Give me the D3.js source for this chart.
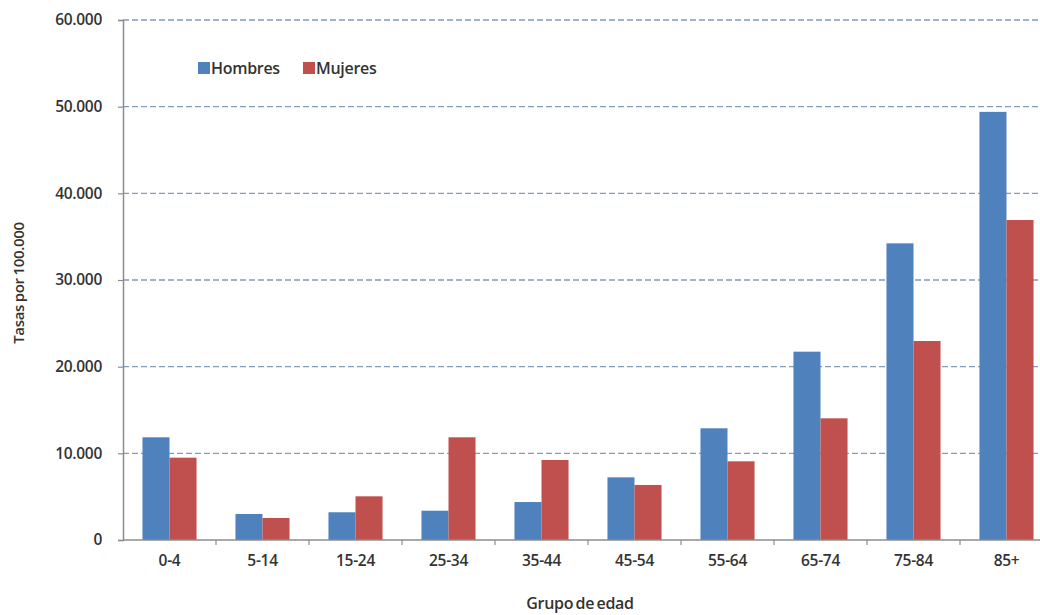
<!DOCTYPE html>
<html>
<head>
<meta charset="utf-8">
<script src="https://cdn.jsdelivr.net/npm/d3@7"></script>
<style>
  html, body { margin: 0; padding: 0; background: #fff; }
  svg { display: block; }
  text { font-family: "Open Sans", "Liberation Sans", sans-serif; fill: #333; }
</style>
</head>
<body>
<svg id="chart" width="1040" height="615"></svg>
<script>
// Age groups and rates per 100,000 inhabitants
const categories = ["0-4", "5-14", "15-24", "25-34", "35-44", "45-54", "55-64", "65-74", "75-84", "85+"];
const hombres = [11850, 3000, 3200, 3380, 4380, 7230, 12890, 21730, 34230, 49400];
const mujeres = [9500, 2540, 5040, 11850, 9230, 6350, 9080, 14040, 22960, 36920];
const seriesNames = ["Hombres", "Mujeres"];
const seriesColors = ["#4F81BD", "#C0504D"];
const yTicks = [0, 10000, 20000, 30000, 40000, 50000, 60000];

const svg = d3.select("#chart");
const W = 1040, H = 615;
const plotLeft = 123, plotTop = 20, plotBottom = 540;
const bandW = 93;
const plotRight = plotLeft + bandW * categories.length;
const textColor = "#363636";

const x = d3.scaleBand().domain(categories).range([plotLeft, plotRight]).paddingInner(0).paddingOuter(0);
const xs = d3.scaleBand().domain(seriesNames).range([0, x.bandwidth()]).paddingInner(0).paddingOuter(0.72);
const y = d3.scaleLinear().domain([0, 60000]).range([plotBottom, plotTop]);

// Dashed horizontal gridlines
svg.append("g").selectAll("line").data(yTicks.filter(d => d > 0)).join("line")
  .attr("x1", plotLeft).attr("x2", W)
  .attr("y1", d => y(d)).attr("y2", d => y(d))
  .attr("stroke", "#819bbb").attr("stroke-width", 1.3)
  .attr("stroke-dasharray", "6,3");

// Bars
const data = categories.map((c, i) => ({ cat: c, vals: [hombres[i], mujeres[i]] }));
const groups = svg.append("g").selectAll("g").data(data).join("g")
  .attr("transform", d => `translate(${x(d.cat)},0)`);
groups.selectAll("rect").data(d => d.vals.map((v, j) => ({ v, j }))).join("rect")
  .attr("x", d => xs(seriesNames[d.j]))
  .attr("width", xs.bandwidth())
  .attr("y", d => y(d.v))
  .attr("height", d => y(0) - y(d.v))
  .attr("fill", d => seriesColors[d.j]);

// Y axis
const yAxis = d3.axisLeft(y).tickValues(yTicks).tickSize(5).tickPadding(16)
  .tickFormat(d => d === 0 ? "0" : (d / 1000).toFixed(0) + ".000");
const gy = svg.append("g").attr("transform", `translate(${plotLeft},0)`).call(yAxis);
gy.select(".domain").attr("stroke", "#8c8c8c").attr("stroke-width", 1.5);
gy.selectAll(".tick line").attr("stroke", "#8c8c8c").attr("stroke-width", 1.2);
gy.selectAll(".tick text").attr("font-size", 15.5).attr("font-weight", 600)
  .attr("fill", textColor).style("font-family", "'Open Sans', sans-serif")
  .attr("letter-spacing", "-0.3");

// X axis
const xAxis = d3.axisBottom(x).tickSize(0).tickPadding(15);
const gx = svg.append("g").attr("transform", `translate(0,${plotBottom})`).call(xAxis);
gx.select(".domain").remove();
gx.append("line").attr("x1", plotLeft).attr("x2", W).attr("y1", 0).attr("y2", 0)
  .attr("stroke", "#8c8c8c").attr("stroke-width", 1.5);
gx.selectAll(".sep").data(categories.slice(1)).join("line")
  .attr("class", "sep")
  .attr("x1", d => x(d)).attr("x2", d => x(d))
  .attr("y1", 0).attr("y2", 5)
  .attr("stroke", "#8c8c8c").attr("stroke-width", 1.2);
gx.selectAll(".tick text").attr("font-size", 15.5).attr("font-weight", 600)
  .attr("fill", textColor).style("font-family", "'Open Sans', sans-serif")
  .attr("letter-spacing", "-0.3");

// Axis titles
svg.append("text")
  .attr("transform", "translate(18,283) rotate(-90)")
  .attr("text-anchor", "middle")
  .attr("dominant-baseline", "central")
  .attr("font-size", 15).attr("font-weight", 600).attr("fill", textColor)
  .attr("letter-spacing", "-0.3").attr("word-spacing", "-1")
  .text("Tasas por 100.000");
svg.append("text")
  .attr("x", 580).attr("y", 609)
  .attr("text-anchor", "middle")
  .attr("font-size", 16).attr("font-weight", 600).attr("fill", textColor)
  .attr("letter-spacing", "-0.3").attr("word-spacing", "-1.5")
  .text("Grupo de edad");

// Legend
const legendX = [198, 303];
const legend = svg.append("g").selectAll("g").data(seriesNames).join("g")
  .attr("transform", (d, i) => `translate(${legendX[i]},62)`);
legend.append("rect").attr("width", 12).attr("height", 12)
  .attr("fill", (d, i) => seriesColors[i]);
legend.append("text").attr("x", 13).attr("y", 6).attr("dy", "0.35em")
  .attr("font-size", 16).attr("font-weight", 600).attr("fill", textColor)
  .attr("letter-spacing", "-0.3")
  .text(d => d);
</script>
</body>
</html>
